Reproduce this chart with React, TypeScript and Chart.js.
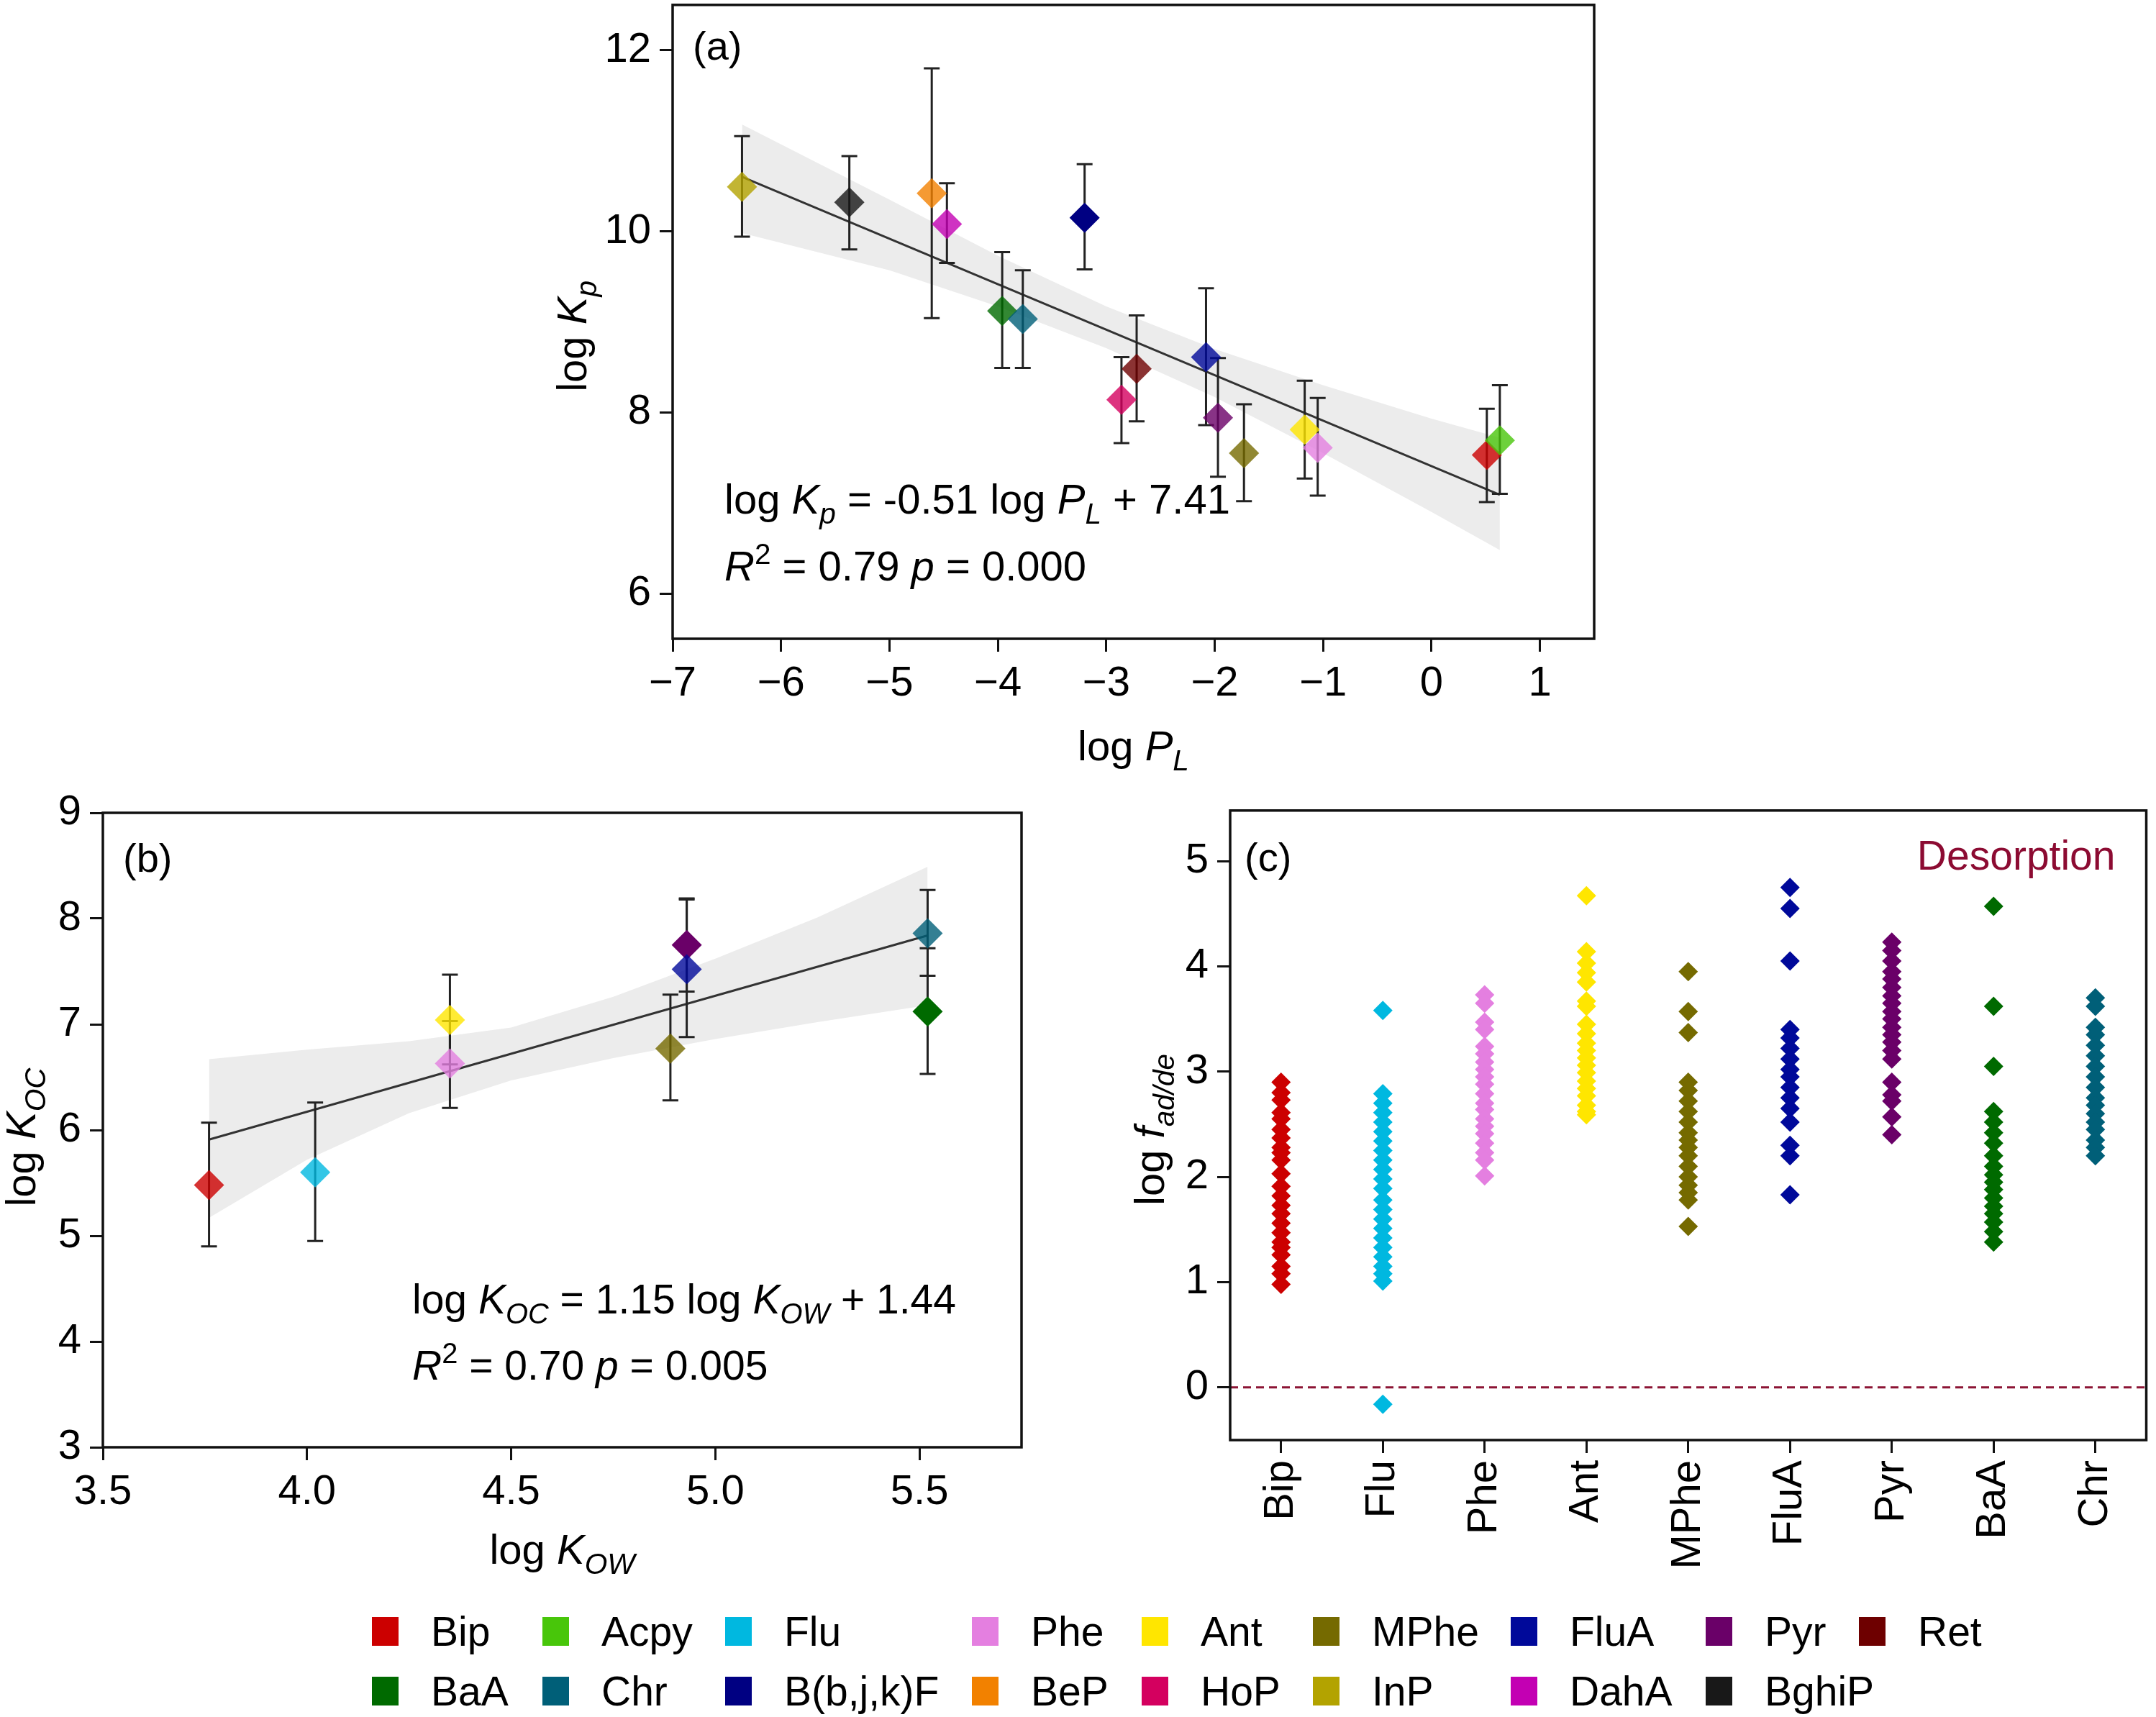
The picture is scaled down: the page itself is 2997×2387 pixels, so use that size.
import { useEffect, useRef } from 'react';
import Chart from 'chart.js/auto';

const FONT = '"Liberation Sans", Arial, Helvetica, sans-serif';
Chart.defaults.font.family = FONT;
Chart.defaults.color = '#000';

// legend compounds and their colours
const compounds = ['Bip', 'Acpy', 'Flu', 'Phe', 'Ant', 'MPhe', 'FluA', 'Pyr', 'Ret', 'BaA', 'Chr', 'B(b,j,k)F', 'BeP', 'HoP', 'InP', 'DahA', 'BghiP'];
const compoundColors = ['#cc0000', '#48c60a', '#00b8e0', '#e47fe0', '#ffe600', '#756a00', '#00099a', '#6a0068', '#6e0000', '#006a00', '#005f78', '#000082', '#f28100', '#d4005f', '#b3a300', '#c300b3', '#181818'];

// (a) log Kp vs log PL
const aNames = ['InP', 'BghiP', 'BeP', 'DahA', 'B(b,j,k)F', 'BaA', 'Chr', 'HoP', 'Ret', 'FluA', 'Pyr', 'MPhe', 'Ant', 'Phe', 'Bip', 'Acpy'];
const aLogPL = [-6.36, -5.37, -4.61, -4.47, -3.2, -3.96, -3.77, -2.86, -2.72, -2.08, -1.97, -1.73, -1.17, -1.05, 0.51, 0.63];
const aLogKp = [10.49, 10.32, 10.42, 10.08, 10.15, 9.12, 9.03, 8.14, 8.48, 8.61, 7.94, 7.55, 7.81, 7.61, 7.53, 7.69];
const aLow = [9.94, 9.8, 9.04, 9.65, 9.58, 8.49, 8.49, 7.66, 7.9, 7.86, 7.29, 7.02, 7.27, 7.08, 7.01, 7.1];
const aHigh = [11.05, 10.83, 11.8, 10.53, 10.74, 9.77, 9.57, 8.61, 9.07, 9.37, 8.6, 8.09, 8.35, 8.16, 8.04, 8.3];
const aFitX = [-6.36, 0.63];
const aFitY = [10.6, 7.09];
const aBandX = [-6.36, -5, -4, -3, -2, -1, 0, 0.63];
const aBandHi = [11.18, 10.35, 9.73, 9.17, 8.7, 8.3, 7.93, 7.72];
const aBandLo = [9.98, 9.57, 9.17, 8.71, 8.17, 7.55, 6.9, 6.48];

// (b) log Koc vs log Kow
const bNames = ['Bip', 'Flu', 'Phe', 'Ant', 'MPhe', 'Pyr', 'FluA', 'Chr', 'BaA'];
const bLogKow = [3.76, 4.02, 4.35, 4.35, 4.89, 4.93, 4.93, 5.52, 5.52];
const bLogKoc = [5.48, 5.6, 6.63, 7.04, 6.77, 7.75, 7.52, 7.86, 7.12];
const bLow = [4.9, 4.95, 6.21, 6.62, 6.28, 7.31, 6.88, 7.46, 6.53];
const bHigh = [6.07, 6.26, 7.03, 7.47, 7.28, 8.19, 8.18, 8.27, 7.72];
const bFitX = [3.76, 5.52];
const bFitY = [5.91, 7.84];
const bBandX = [3.76, 4.0, 4.25, 4.5, 4.75, 5.0, 5.25, 5.52];
const bBandHi = [6.67, 6.76, 6.84, 6.97, 7.26, 7.62, 8.01, 8.49];
const bBandLo = [5.17, 5.72, 6.16, 6.47, 6.68, 6.86, 7.02, 7.18];

// (c) log f ad/de per compound
const cCategories = ['Bip', 'Flu', 'Phe', 'Ant', 'MPhe', 'FluA', 'Pyr', 'BaA', 'Chr'];
const cBip = [2.9, 2.8, 2.73, 2.61, 2.55, 2.45, 2.37, 2.28, 2.23, 2.16, 2.03, 1.91, 1.82, 1.73, 1.65, 1.56, 1.47, 1.38, 1.33, 1.26, 1.15, 1.08, 0.98];
const cFlu = [3.58, 2.79, 2.7, 2.61, 2.52, 2.43, 2.34, 2.25, 2.16, 2.07, 1.98, 1.89, 1.78, 1.69, 1.6, 1.51, 1.42, 1.33, 1.24, 1.15, 1.08, 1.01, -0.16];
const cPhe = [3.73, 3.65, 3.47, 3.4, 3.24, 3.17, 3.09, 3.02, 2.95, 2.88, 2.79, 2.7, 2.64, 2.55, 2.48, 2.41, 2.32, 2.23, 2.16, 2.01];
const cAnt = [4.67, 4.14, 4.03, 3.94, 3.85, 3.67, 3.62, 3.45, 3.36, 3.27, 3.2, 3.13, 3.06, 2.99, 2.91, 2.84, 2.77, 2.68, 2.62, 2.59];
const cMPhe = [3.95, 3.57, 3.37, 2.9, 2.82, 2.72, 2.62, 2.52, 2.42, 2.35, 2.28, 2.2, 2.1, 2.0, 1.92, 1.85, 1.78, 1.53];
const cFluA = [4.75, 4.55, 4.05, 3.4, 3.32, 3.22, 3.12, 3.02, 2.95, 2.85, 2.75, 2.65, 2.52, 2.3, 2.2, 1.83];
const cPyr = [4.23, 4.15, 4.05, 3.95, 3.88, 3.8, 3.72, 3.65, 3.57, 3.5, 3.42, 3.35, 3.28, 3.2, 3.12, 2.9, 2.78, 2.72, 2.57, 2.4];
const cBaA = [4.57, 3.62, 3.05, 2.62, 2.52, 2.42, 2.32, 2.2, 2.1, 2.02, 1.95, 1.88, 1.8, 1.72, 1.65, 1.57, 1.48, 1.38];
const cChr = [3.7, 3.62, 3.42, 3.35, 3.25, 3.15, 3.05, 2.95, 2.85, 2.75, 2.68, 2.6, 2.52, 2.45, 2.35, 2.28, 2.2];
const cValues = [cBip, cFlu, cPhe, cAnt, cMPhe, cFluA, cPyr, cBaA, cChr];

// legend layout (page px)
const legendColX = [517, 754, 1008, 1351, 1587, 1825, 2100, 2371, 2584];
const legendRowY = [2268, 2351];
const legendRow1 = ['Bip', 'Acpy', 'Flu', 'Phe', 'Ant', 'MPhe', 'FluA', 'Pyr', 'Ret'];
const legendRow2 = ['BaA', 'Chr', 'B(b,j,k)F', 'BeP', 'HoP', 'InP', 'DahA', 'BghiP'];

const colorOf = (name: string) => compoundColors[compounds.indexOf(name)];
function tint(hex: string, a: number) {
  const n = parseInt(hex.slice(1), 16);
  return `rgba(${n >> 16},${(n >> 8) & 255},${n & 255},${a})`;
}
const minus = (v: number | string) => {
  const n = Number(v);
  return n < 0 ? '\u2212' + Math.abs(n) : String(n);
};

type Area = { left: number; right: number; top: number; bottom: number };
type Part = { t: string; it?: boolean; sub?: boolean; sup?: boolean };
type RichItem = { parts: Part[]; size: number; align?: 'left' | 'center' | 'right'; rot?: number; color?: string; at: (a: Area) => [number, number] };

function richText(items: RichItem[]) {
  return {
    id: 'richText',
    afterDraw(chart: any) {
      const { ctx, chartArea } = chart;
      for (const it of items) {
        const [x, y] = it.at(chartArea);
        const fontFor = (p: Part) => `${p.it ? 'italic ' : ''}${p.sub || p.sup ? it.size * 0.7 : it.size}px ${FONT}`;
        ctx.save();
        ctx.translate(x, y);
        if (it.rot) ctx.rotate(it.rot);
        ctx.fillStyle = it.color ?? '#000';
        ctx.textBaseline = 'alphabetic';
        ctx.textAlign = 'left';
        let w = 0;
        for (const p of it.parts) { ctx.font = fontFor(p); w += ctx.measureText(p.t).width; }
        let cx = it.align === 'center' ? -w / 2 : it.align === 'right' ? -w : 0;
        for (const p of it.parts) {
          ctx.font = fontFor(p);
          const dy = p.sub ? it.size * 0.24 : p.sup ? -it.size * 0.4 : 0;
          ctx.fillText(p.t, cx, dy);
          cx += ctx.measureText(p.t).width;
        }
        ctx.restore();
      }
    },
  };
}

const frame = {
  id: 'frame',
  afterDatasetsDraw(chart: any) {
    const { ctx, chartArea: a } = chart;
    ctx.save();
    ctx.strokeStyle = '#111';
    ctx.lineWidth = 3.5;
    ctx.strokeRect(a.left, a.top, a.right - a.left, a.bottom - a.top);
    ctx.restore();
  },
};

function errorBars(low: number[], high: number[]) {
  return {
    id: 'errorBars',
    beforeDatasetDraw(chart: any, args: any) {
      if (args.index !== 0) return;
      const { ctx } = chart;
      const y = chart.scales.y;
      const meta = chart.getDatasetMeta(0);
      ctx.save();
      ctx.strokeStyle = '#222';
      ctx.lineWidth = 3;
      meta.data.forEach((pt: any, i: number) => {
        const yl = y.getPixelForValue(low[i]);
        const yh = y.getPixelForValue(high[i]);
        ctx.beginPath();
        ctx.moveTo(pt.x, yl); ctx.lineTo(pt.x, yh);
        ctx.moveTo(pt.x - 11, yl); ctx.lineTo(pt.x + 11, yl);
        ctx.moveTo(pt.x - 11, yh); ctx.lineTo(pt.x + 11, yh);
        ctx.stroke();
      });
      ctx.restore();
    },
  };
}

const zeroLine = {
  id: 'zeroLine',
  beforeDatasetsDraw(chart: any) {
    const { ctx, chartArea: a } = chart;
    const y0 = chart.scales.y.getPixelForValue(0);
    ctx.save();
    ctx.strokeStyle = '#8c1535';
    ctx.lineWidth = 3;
    ctx.setLineDash([11, 7]);
    ctx.beginPath();
    ctx.moveTo(a.left, y0);
    ctx.lineTo(a.right, y0);
    ctx.stroke();
    ctx.restore();
  },
};

const tickFont = { size: 58 };
const tickGrid = { drawOnChartArea: false, drawTicks: true, tickLength: 18, tickWidth: 3, tickColor: '#111', color: '#111', lineWidth: 3 };
const TITLE = 58;

function regressionDatasets(fitX: number[], fitY: number[], bandX: number[], hi: number[], lo: number[]) {
  return [
    { type: 'line', data: fitX.map((x, i) => ({ x, y: fitY[i] })), borderColor: '#333', borderWidth: 3, pointRadius: 0, fill: false },
    { type: 'line', data: bandX.map((x, i) => ({ x, y: hi[i] })), borderColor: 'rgba(0,0,0,0)', borderWidth: 1, pointRadius: 0, fill: '+1', backgroundColor: '#ececec' },
    { type: 'line', data: bandX.map((x, i) => ({ x, y: lo[i] })), borderColor: 'rgba(0,0,0,0)', borderWidth: 1, pointRadius: 0, fill: false },
  ];
}

function buildA(): any {
  return {
    type: 'scatter',
    data: {
      datasets: [
        {
          data: aNames.map((n, i) => ({ x: aLogPL[i], y: aLogKp[i] })),
          pointStyle: 'rectRot',
          pointRadius: 21,
          pointBorderWidth: 0,
          pointBackgroundColor: aNames.map((n) => tint(colorOf(n), n === 'B(b,j,k)F' ? 1 : 0.8)),
        },
        ...regressionDatasets(aFitX, aFitY, aBandX, aBandHi, aBandLo),
      ],
    },
    options: {
      responsive: false,
      animation: false,
      events: [],
      layout: { padding: { top: 46, right: 44, left: 0, bottom: 0 } },
      plugins: { legend: { display: false }, tooltip: { enabled: false } },
      scales: {
        x: {
          type: 'linear', min: -7, max: 1.5,
          afterFit: (s: any) => { s.height = 212; },
          ticks: { stepSize: 1, includeBounds: false, font: tickFont, color: '#000', padding: 10, callback: minus },
          grid: tickGrid, border: { display: false },
        },
        y: {
          min: 5.5, max: 12.5,
          afterFit: (s: any) => { s.width = 235; },
          ticks: { stepSize: 2, includeBounds: false, font: tickFont, color: '#000', padding: 12 },
          grid: tickGrid, border: { display: false },
        },
      },
    },
    plugins: [
      frame,
      errorBars(aLow, aHigh),
      richText([
        { parts: [{ t: '(a)' }], size: 56, at: (a) => [a.left + 28, a.top + 76] },
        { parts: [{ t: 'log ' }, { t: 'K', it: true }, { t: 'p', it: true, sub: true }, { t: ' = -0.51 log ' }, { t: 'P', it: true }, { t: 'L', it: true, sub: true }, { t: ' + 7.41' }], size: TITLE, at: (a) => [a.left + 72, a.top + 707] },
        { parts: [{ t: 'R', it: true }, { t: '2', sup: true }, { t: ' = 0.79 ' }, { t: 'p', it: true }, { t: ' = 0.000' }], size: TITLE, at: (a) => [a.left + 72, a.top + 800] },
        { parts: [{ t: 'log ' }, { t: 'P', it: true }, { t: 'L', it: true, sub: true }], size: TITLE, align: 'center', at: (a) => [(a.left + a.right) / 2, a.bottom + 169] },
        { parts: [{ t: 'log ' }, { t: 'K', it: true }, { t: 'p', it: true, sub: true }], size: TITLE, align: 'center', rot: -Math.PI / 2, at: (a) => [a.left - 120, (a.top + a.bottom) / 2 + 20] },
      ]),
    ],
  };
}

function buildB(): any {
  return {
    type: 'scatter',
    data: {
      datasets: [
        {
          data: bNames.map((n, i) => ({ x: bLogKow[i], y: bLogKoc[i] })),
          pointStyle: 'rectRot',
          pointRadius: 21,
          pointBorderWidth: 0,
          pointBackgroundColor: bNames.map((n) => tint(colorOf(n), n === 'Pyr' || n === 'BaA' ? 1 : 0.8)),
        },
        ...regressionDatasets(bFitX, bFitY, bBandX, bBandHi, bBandLo),
      ],
    },
    options: {
      responsive: false,
      animation: false,
      events: [],
      layout: { padding: { top: 50, right: 60, left: 0, bottom: 0 } },
      plugins: { legend: { display: false }, tooltip: { enabled: false } },
      scales: {
        x: {
          type: 'linear', min: 3.5, max: 5.75,
          afterFit: (s: any) => { s.height = 198; },
          ticks: { stepSize: 0.5, includeBounds: false, font: tickFont, color: '#000', padding: 10, callback: (v: any) => Number(v).toFixed(1) },
          grid: tickGrid, border: { display: false },
        },
        y: {
          min: 3, max: 9,
          afterFit: (s: any) => { s.width = 143; },
          ticks: { stepSize: 1, font: tickFont, color: '#000', padding: 12 },
          grid: tickGrid, border: { display: false },
        },
      },
    },
    plugins: [
      frame,
      errorBars(bLow, bHigh),
      richText([
        { parts: [{ t: '(b)' }], size: 56, at: (a) => [a.left + 28, a.top + 82] },
        { parts: [{ t: 'log ' }, { t: 'K', it: true }, { t: 'OC', it: true, sub: true }, { t: ' = 1.15 log ' }, { t: 'K', it: true }, { t: 'OW', it: true, sub: true }, { t: ' + 1.44' }], size: 57, at: (a) => [a.left + 430, a.top + 696] },
        { parts: [{ t: 'R', it: true }, { t: '2', sup: true }, { t: ' = 0.70 ' }, { t: 'p', it: true }, { t: ' = 0.005' }], size: 57, at: (a) => [a.left + 430, a.top + 788] },
        { parts: [{ t: 'log ' }, { t: 'K', it: true }, { t: 'OW', it: true, sub: true }], size: TITLE, align: 'center', at: (a) => [(a.left + a.right) / 2, a.bottom + 162] },
        { parts: [{ t: 'log ' }, { t: 'K', it: true }, { t: 'OC', it: true, sub: true }], size: TITLE, align: 'center', rot: -Math.PI / 2, at: (a) => [a.left - 94, (a.top + a.bottom) / 2 + 10] },
      ]),
    ],
  };
}

function buildC(): any {
  return {
    type: 'scatter',
    data: {
      datasets: cCategories.map((c, k) => ({
        data: cValues[k].map((v) => ({ x: c, y: v })),
        pointStyle: 'rectRot',
        pointRadius: 13.5,
        pointBorderWidth: 0,
        pointBackgroundColor: colorOf(c),
      })),
    },
    options: {
      responsive: false,
      animation: false,
      events: [],
      layout: { padding: { top: 40, right: 7, left: 0, bottom: 0 } },
      plugins: { legend: { display: false }, tooltip: { enabled: false } },
      scales: {
        x: {
          type: 'category', labels: cCategories, offset: true,
          afterFit: (s: any) => { s.height = 208; },
          ticks: { autoSkip: false, minRotation: 90, maxRotation: 90, font: tickFont, color: '#000', padding: 10 },
          grid: { ...tickGrid, offset: false }, border: { display: false },
        },
        y: {
          min: -0.5, max: 5.48,
          afterFit: (s: any) => { s.width = 220; },
          ticks: { stepSize: 1, includeBounds: false, font: tickFont, color: '#000', padding: 12 },
          grid: tickGrid, border: { display: false },
        },
      },
    },
    plugins: [
      frame,
      zeroLine,
      richText([
        { parts: [{ t: '(c)' }], size: 56, at: (a) => [a.left + 20, a.top + 84] },
        { parts: [{ t: 'Desorption' }], size: 57, align: 'right', color: '#8c0b32', at: (a) => [a.right - 43, a.top + 82] },
        { parts: [{ t: 'log ' }, { t: 'f', it: true }, { t: 'ad/de', it: true, sub: true }], size: TITLE, align: 'center', rot: -Math.PI / 2, at: (a) => [a.left - 92, (a.top + a.bottom) / 2 + 6] },
      ]),
    ],
  };
}

function ChartBox({ left, top, width, height, build }: { left: number; top: number; width: number; height: number; build: () => any }) {
  const canvasRef = useRef<HTMLCanvasElement>(null);
  useEffect(() => {
    if (!canvasRef.current) return;
    const chart = new Chart(canvasRef.current, build());
    return () => chart.destroy();
  }, [build]);
  return <canvas ref={canvasRef} width={width} height={height} style={{ position: 'absolute', left, top, width, height }} />;
}

function Legend() {
  const rows = [legendRow1, legendRow2];
  return (
    <>
      {rows.map((row, r) =>
        row.map((name, c) => (
          <div key={name} style={{ position: 'absolute', left: legendColX[c], top: legendRowY[r] - 30, height: 60, display: 'flex', alignItems: 'center', whiteSpace: 'nowrap' }}>
            <div style={{ width: 37, height: 40, background: colorOf(name), marginRight: 45 }} />
            <span style={{ fontFamily: FONT, fontSize: 57, color: '#000', lineHeight: '60px' }}>{name}</span>
          </div>
        ))
      )}
    </>
  );
}

export default function App() {
  useEffect(() => {
    document.body.style.margin = '0';
  }, []);
  return (
    <div style={{ position: 'relative', width: 2997, height: 2387, background: '#fff', overflow: 'hidden' }}>
      <ChartBox left={700} top={-40} width={1560} height={1140} build={buildA} />
      <ChartBox left={0} top={1080} width={1480} height={1130} build={buildB} />
      <ChartBox left={1490} top={1080} width={1507} height={1130} build={buildC} />
      <Legend />
    </div>
  );
}
